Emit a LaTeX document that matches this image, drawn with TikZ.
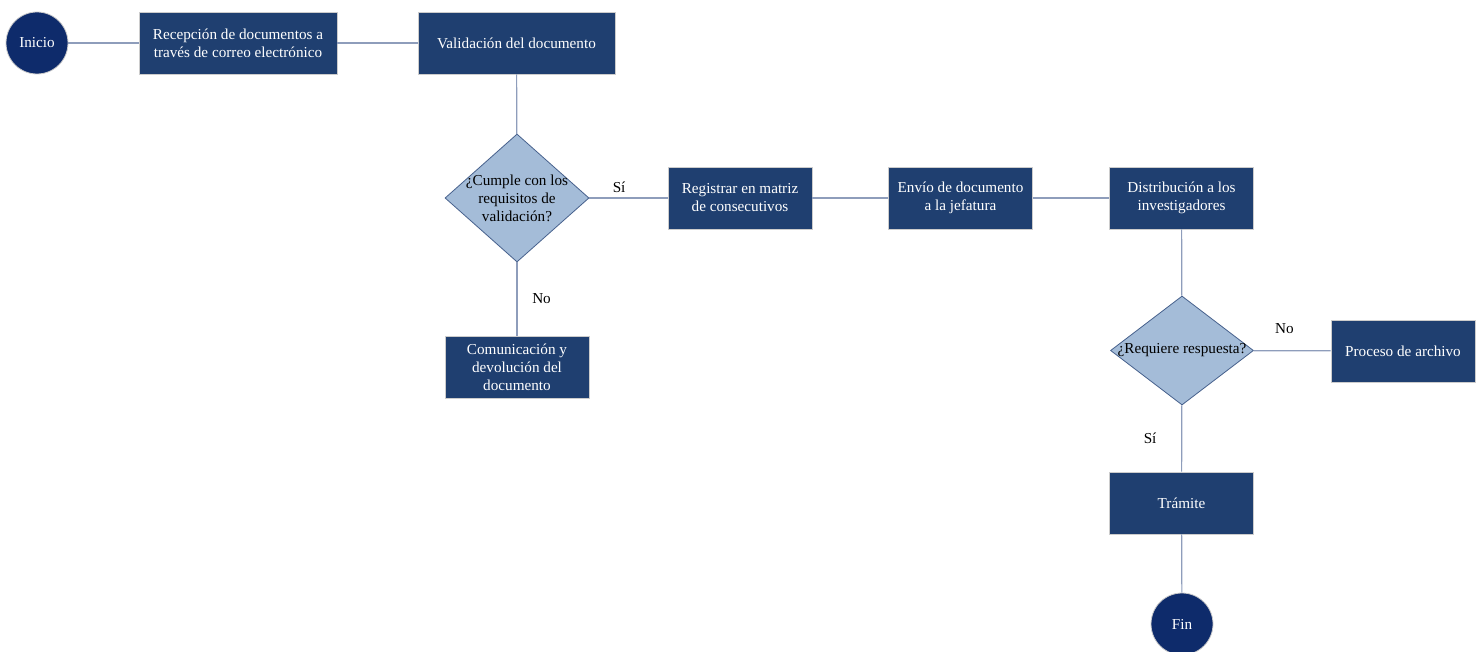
\documentclass[tikz,border=0pt]{standalone}
\usepackage{fontspec}
\setmainfont{Liberation Serif}
\usetikzlibrary{shapes.geometric}
\definecolor{boxblue}{RGB}{31,63,112}
\definecolor{endblue}{RGB}{14,43,107}
\definecolor{decblue}{RGB}{164,188,216}
\definecolor{decline}{RGB}{70,96,140}
\definecolor{linkgray}{RGB}{142,157,187}

\begin{document}
\begin{tikzpicture}
[x=0.5pt,y=-0.5pt,font=\fontsize{7.6}{9}\selectfont,
proc/.style={draw=gray!40,fill=boxblue,text=white,align=center,minimum width=72pt,minimum height=31pt,inner sep=1pt},
term/.style={draw=gray!40,circle,fill=endblue,text=white,minimum size=31pt,inner sep=0pt},
decision/.style={draw=decline,diamond,fill=decblue,inner sep=0pt},
link/.style={draw=linkgray,line width=0.6pt},]

\useasboundingbox (0,0) rectangle (1483,652);

%Start and first row
\node (ini) at (37,43)[term] {Inicio};
\node (rec) at (238,43)[proc,minimum width=99pt] {Recepción de documentos a\\ través de correo electrónico};
\node (val) at (516.5,43)[proc,minimum width=98.5pt] {Validación del documento};

%First decision
\node (cum) at (517,198)[decision,minimum width=72pt,minimum height=64pt,label={[align=center]center:¿Cumple con los\\ requisitos de\\ validación?}] {};
\node (com) at (517,367)[proc] {Comunicación y\\ devolución del\\ documento};

%Second row
\node (reg) at (740,198)[proc] {Registrar en matriz\\ de consecutivos};
\node (env) at (960.5,198)[proc] {Envío de documento\\ a la jefatura};
\node (dis) at (1181.5,198)[proc] {Distribución a los\\ investigadores};

%Second decision
\node (req) at (1182,350.5)[decision,minimum width=71.5pt,minimum height=54.5pt,label={center:¿Requiere respuesta?}] {};
\node (arc) at (1403,351)[proc] {Proceso de archivo};
\node (tra) at (1181.5,503)[proc] {Trámite};
\node (fin) at (1182,624)[term] {Fin};

%Joining nodes
\draw[link] (ini) -- (rec);
\draw[link] (rec) -- (val);
\draw[link] (val) -- (cum);
\draw[link] (cum) -- node[pos=0.38,above,yshift=-1pt] {Sí} (reg);
\draw[link] (cum) -- node[right,xshift=4pt] {No} (com);
\draw[link] (reg) -- (env);
\draw[link] (env) -- (dis);
\draw[link] (dis) -- (req);
\draw[link] (req) -- node[pos=0.4,above,yshift=5pt] {No} (arc);
\draw[link] (req) -- node[left,xshift=-9pt] {Sí} (tra);
\draw[link] (tra) -- (fin);

\end{tikzpicture}
\end{document}
